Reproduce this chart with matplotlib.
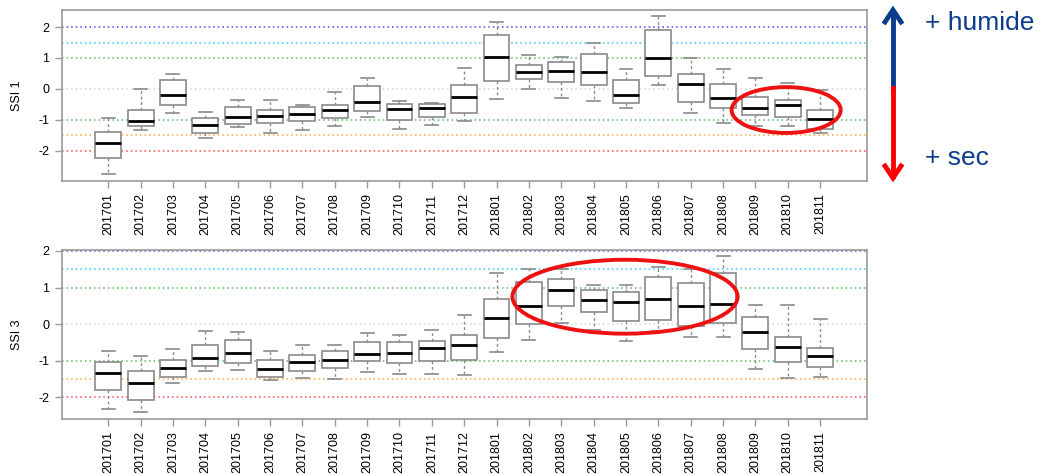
import numpy as np
import matplotlib.pyplot as plt
from matplotlib.patches import Ellipse
from matplotlib.lines import Line2D

plt.rcParams['font.family'] = ['Liberation Sans', 'DejaVu Sans']

months = ['201701', '201702', '201703', '201704', '201705', '201706',
          '201707', '201708', '201709', '201710', '201711', '201712',
          '201801', '201802', '201803', '201804', '201805', '201806',
          '201807', '201808', '201809', '201810', '201811']

# SSI 1 : whisker low, Q1, median, Q3, whisker high
ssi1_low = [-2.75, -1.34, -0.77, -1.57, -1.24, -1.43, -1.33, -1.20, -0.91, -1.30, -1.17, -1.04,
            -0.33, -0.01, -0.30, -0.38, -0.62, 0.12, -0.78, -1.10, -1.18, -1.19, -1.43]
ssi1_q1 = [-2.23, -1.19, -0.53, -1.43, -1.14, -1.11, -1.05, -0.95, -0.72, -1.00, -0.89, -0.77,
           0.27, 0.32, 0.22, 0.12, -0.46, 0.43, -0.41, -0.63, -0.85, -0.92, -1.30]
ssi1_med = [-1.76, -1.02, -0.18, -1.15, -0.91, -0.88, -0.82, -0.68, -0.41, -0.66, -0.63, -0.27,
            1.04, 0.55, 0.58, 0.56, -0.19, 0.99, 0.15, -0.30, -0.60, -0.53, -0.97]
ssi1_q3 = [-1.40, -0.69, 0.28, -0.95, -0.57, -0.68, -0.59, -0.53, 0.09, -0.47, -0.49, 0.12,
           1.75, 0.76, 0.86, 1.12, 0.29, 1.91, 0.47, 0.17, -0.26, -0.37, -0.69]
ssi1_high = [-0.93, -0.01, 0.49, -0.75, -0.34, -0.34, -0.51, -0.10, 0.34, -0.39, -0.45, 0.67,
             2.15, 1.09, 1.04, 1.49, 0.63, 2.35, 1.01, 0.66, 0.35, 0.18, -0.03]

# SSI 3
ssi3_low = [-2.33, -2.41, -1.61, -1.28, -1.26, -1.53, -1.46, -1.49, -1.30, -1.35, -1.36, -1.39,
            -0.75, -0.43, 0.04, -0.15, -0.47, -0.20, -0.36, -0.34, -1.22, -1.46, -1.45]
ssi3_q1 = [-1.80, -2.07, -1.45, -1.14, -1.05, -1.44, -1.28, -1.19, -1.02, -1.07, -1.01, -0.99,
           -0.38, 0.00, 0.50, 0.32, 0.08, 0.12, -0.05, 0.03, -0.68, -1.04, -1.17]
ssi3_med = [-1.33, -1.60, -1.20, -0.92, -0.79, -1.23, -1.03, -0.98, -0.81, -0.78, -0.66, -0.57,
            0.16, 0.50, 0.93, 0.66, 0.61, 0.69, 0.50, 0.56, -0.22, -0.63, -0.87]
ssi3_q3 = [-1.04, -1.27, -0.99, -0.58, -0.42, -0.99, -0.84, -0.72, -0.50, -0.50, -0.46, -0.30,
           0.70, 1.15, 1.24, 0.93, 0.87, 1.30, 1.12, 1.41, 0.19, -0.35, -0.64]
ssi3_high = [-0.74, -0.88, -0.68, -0.18, -0.22, -0.72, -0.57, -0.56, -0.24, -0.29, -0.17, 0.25,
             1.39, 1.50, 1.52, 1.08, 1.07, 1.55, 1.51, 1.87, 0.52, 0.51, 0.14]

# threshold lines
levels = [2, 1.5, 1, 0, -1, -1.5, -2]
level_colors = ['#4a4aff', '#33ccff', '#5cb85c', '#d4d4d4', '#5cb85c', '#ffa54a', '#ff4a4a']

GRAY = '#9a9a9a'


def draw_panel(ax, low, q1, med, q3, high, ylabel, ylim):
    x = np.arange(len(months))
    for lv, c in zip(levels, level_colors):
        ax.axhline(lv, color=c, ls=(0, (1, 2)), lw=1.1, zorder=1)
    stats = [dict(whislo=a, q1=b, med=m, q3=c, whishi=d, fliers=[])
             for a, b, m, c, d in zip(low, q1, med, q3, high)]
    ax.bxp(stats, positions=x, widths=0.8, capwidths=0.4, patch_artist=True,
           boxprops=dict(facecolor='white', edgecolor='#8a8a8a', lw=1.2),
           medianprops=dict(color='black', lw=2),
           whiskerprops=dict(color='#8a8a8a', ls=(0, (2, 2)), lw=1),
           capprops=dict(color='#8a8a8a', lw=1.2),
           manage_ticks=False, zorder=3)
    ax.set_xlim(-1.43, 23.45)
    ax.set_ylim(*ylim)
    ax.set_xticks(x)
    ax.set_xticklabels(months, rotation=90, fontsize=9)
    ax.set_yticks([-2, -1, 0, 1, 2])
    ax.set_yticklabels(['-2', '-1', '0', '1', '2'], fontsize=9)
    ax.set_ylabel(ylabel, fontsize=9, labelpad=11)
    ax.tick_params(color=GRAY, length=5, width=1, pad=4)
    for s in ax.spines.values():
        s.set_color(GRAY)
        s.set_linewidth(1.2)


fig = plt.figure(figsize=(10.4, 4.75), dpi=100)
ax1 = fig.add_axes([0.0596, 0.619, 0.7741, 0.360])
ax2 = fig.add_axes([0.0596, 0.118, 0.7741, 0.356])

draw_panel(ax1, ssi1_low, ssi1_q1, ssi1_med, ssi1_q3, ssi1_high, 'SSI 1', (-2.97, 2.55))
draw_panel(ax2, ssi3_low, ssi3_q1, ssi3_med, ssi3_q3, ssi3_high, 'SSI 3', (-2.59, 2.03))

# highlighted periods
ax1.add_patch(Ellipse((20.95, -0.68), 3.37, 1.48, fill=False, ec='#ee1111',
                      lw=2.8, zorder=5, clip_on=False))
ax2.add_patch(Ellipse((15.97, 0.75), 6.96, 2.02, fill=False, ec='#ee1111',
                      lw=2.8, zorder=5, clip_on=False))

# wet / dry arrow on the right
W, H = 1040, 475
xa = 893 / W
fig.add_artist(Line2D([xa, xa], [1 - 88 / H, 1 - 12 / H], color='#0b3d8c',
                      lw=3.5, transform=fig.transFigure))
fig.add_artist(Line2D([xa - 8 / W, xa, xa + 8 / W], [1 - 22 / H, 1 - 10 / H, 1 - 22 / H],
                      color='#0b3d8c', lw=3.5, transform=fig.transFigure,
                      solid_joinstyle='miter'))
fig.add_artist(Line2D([xa, xa], [1 - 88 / H, 1 - 176 / H], color='#ff0000',
                      lw=3.5, transform=fig.transFigure))
fig.add_artist(Line2D([xa - 8 / W, xa, xa + 8 / W], [1 - 166 / H, 1 - 178 / H, 1 - 166 / H],
                      color='#ff0000', lw=3.5, transform=fig.transFigure,
                      solid_joinstyle='miter'))
fig.text(925 / W, 1 - 23 / H, '+ humide', color='#0b3d8c', fontsize=19,
         va='center', ha='left')
fig.text(925 / W, 1 - 158 / H, '+ sec', color='#0b3d8c', fontsize=19,
         va='center', ha='left')

fig.savefig('out.png', dpi=100)
